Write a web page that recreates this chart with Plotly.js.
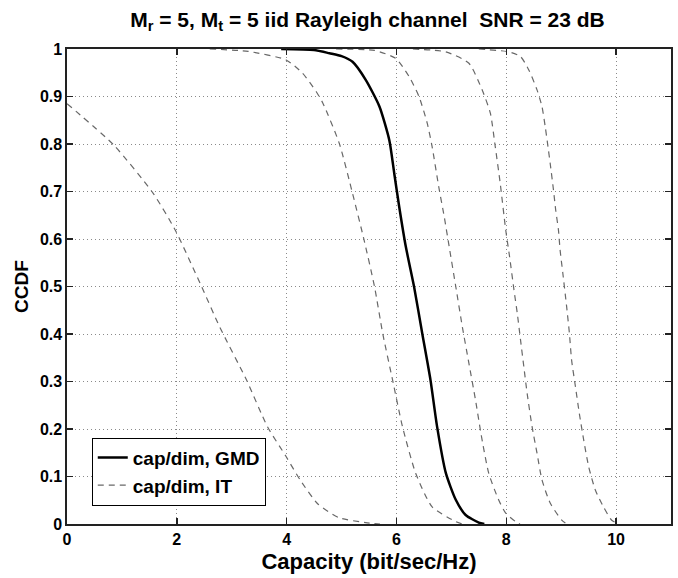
<!DOCTYPE html>
<html>
<head>
<meta charset="utf-8">
<script src="https://cdn.plot.ly/plotly-3.0.1.min.js"></script>
<style>html,body{margin:0;padding:0;background:#fff;}#chart{width:678px;height:578px;}</style>
</head>
<body>
<div id="chart"></div>
<script>
// GMD (solid)
var gmdX = [3.9, 4.5, 4.78, 5.0, 5.2, 5.44, 5.69, 5.87, 5.96, 6.05, 6.17, 6.32, 6.47, 6.62, 6.74, 6.9, 7.08, 7.26, 7.5, 7.6];
var gmdY = [1, 0.998, 0.991, 0.985, 0.973, 0.935, 0.879, 0.808, 0.738, 0.668, 0.584, 0.5, 0.401, 0.303, 0.205, 0.107, 0.051, 0.019, 0.003, 0];

// IT (dashed) curves
var it1X = [0, 0.85, 1.57, 1.97, 2.45, 2.78, 3.27, 3.65, 3.99, 4.25, 4.57, 4.96, 5.44, 5.7];
var it1Y = [0.885, 0.798, 0.696, 0.619, 0.5, 0.415, 0.303, 0.205, 0.142, 0.092, 0.042, 0.013, 0.003, 0];

var it2X = [2.6, 3.3, 3.99, 4.29, 4.54, 4.66, 4.96, 5.2, 5.41, 5.6, 5.75, 5.93, 6.11, 6.35, 6.65, 7.08, 7.2];
var it2Y = [1, 0.995, 0.977, 0.949, 0.91, 0.886, 0.801, 0.696, 0.598, 0.5, 0.401, 0.303, 0.205, 0.107, 0.036, 0.005, 0];

var it3X = [4.9, 5.6, 5.99, 6.23, 6.41, 6.56, 6.65, 6.77, 6.87, 6.96, 7.08, 7.2, 7.32, 7.44, 7.54, 7.68, 7.86, 7.99, 8.17, 8.25];
var it3Y = [1, 0.997, 0.98, 0.942, 0.9, 0.844, 0.794, 0.71, 0.647, 0.584, 0.5, 0.415, 0.338, 0.261, 0.19, 0.107, 0.051, 0.023, 0.005, 0];

var it4X = [6.3, 6.9, 7.32, 7.56, 7.71, 7.8, 7.89, 7.99, 8.06, 8.14, 8.2, 8.26, 8.32, 8.38, 8.47, 8.56, 8.65, 8.8, 9.01, 9.1];
var it4Y = [1, 0.994, 0.97, 0.914, 0.865, 0.794, 0.717, 0.619, 0.563, 0.493, 0.444, 0.387, 0.331, 0.275, 0.205, 0.149, 0.093, 0.044, 0.008, 0];

var it5X = [7.5, 8.05, 8.26, 8.41, 8.56, 8.65, 8.71, 8.76, 8.8, 8.86, 8.9, 8.95, 8.98, 9.03, 9.1, 9.15, 9.19, 9.26, 9.33, 9.41, 9.5, 9.62, 9.77, 9.92, 10.05];
var it5Y = [1, 0.994, 0.984, 0.956, 0.914, 0.879, 0.836, 0.794, 0.759, 0.703, 0.661, 0.619, 0.577, 0.528, 0.457, 0.401, 0.345, 0.289, 0.233, 0.177, 0.121, 0.072, 0.036, 0.008, 0];

var xTicks = [0, 2, 4, 6, 8, 10];
var yTicks = [0, 0.1, 0.2, 0.3, 0.4, 0.5, 0.6, 0.7, 0.8, 0.9, 1];
var yTickText = ['0', '0.1', '0.2', '0.3', '0.4', '0.5', '0.6', '0.7', '0.8', '0.9', '1'];

var FONT = 'Liberation Sans, Arial, Helvetica, sans-serif';
var dashStyle = {color: '#686868', width: 1.2, dash: '6px,5px'};

var itCurves = [[it1X, it1Y], [it2X, it2Y], [it3X, it3Y], [it4X, it4Y], [it5X, it5Y]];
var traces = [{
  x: gmdX, y: gmdY, type: 'scatter', mode: 'lines', name: 'cap/dim, GMD',
  line: {color: '#000', width: 2.5, shape: 'spline', smoothing: 0.6}
}];
itCurves.forEach(function (c, i) {
  traces.push({
    x: c[0], y: c[1], type: 'scatter', mode: 'lines', name: 'cap/dim, IT',
    legendgroup: 'it', showlegend: i === 0,
    line: Object.assign({shape: 'spline', smoothing: 0.6}, dashStyle)
  });
});

var axisCommon = {
  showline: true, linecolor: '#222', linewidth: 1.6, mirror: 'ticks',
  ticks: 'inside', ticklen: 6, tickwidth: 1.5, tickcolor: '#222',
  showgrid: true, gridcolor: '#8a8a8a', griddash: '1px,3px', gridwidth: 1,
  zeroline: false,
  tickfont: {family: FONT, size: 16, color: '#000', weight: 'bold'}
};

var layout = {
  width: 678, height: 578,
  margin: {l: 67, r: 7, t: 49, b: 54},
  paper_bgcolor: '#fff', plot_bgcolor: '#fff',
  title: {
    text: 'M<sub>r</sub> = 5, M<sub>t</sub> = 5 iid Rayleigh channel&nbsp;&nbsp;SNR = 23 dB',
    font: {family: FONT, size: 21, color: '#000', weight: 'bold'},
    x: 0.542, xanchor: 'center', y: 0.966, yanchor: 'middle'
  },
  xaxis: Object.assign({}, axisCommon, {
    range: [0, 11], tickvals: xTicks, ticktext: xTicks.map(String),
    title: {text: 'Capacity (bit/sec/Hz)', font: {family: FONT, size: 22, color: '#000', weight: 'bold'}, standoff: 7}
  }),
  yaxis: Object.assign({}, axisCommon, {
    range: [0, 1], tickvals: yTicks, ticktext: yTickText,
    title: {text: 'CCDF', font: {family: FONT, size: 19, color: '#000', weight: 'bold'}, standoff: 6}
  }),
  showlegend: true,
  legend: {
    x: 0.041, y: 0.182, xanchor: 'left', yanchor: 'top',
    bgcolor: '#fff', bordercolor: '#000', borderwidth: 1,
    font: {family: FONT, size: 19, color: '#000', weight: 'bold'},
    tracegroupgap: 0, itemwidth: 30
  }
};

Plotly.newPlot('chart', traces, layout, {displayModeBar: false, staticPlot: true});
</script>
</body>
</html>
